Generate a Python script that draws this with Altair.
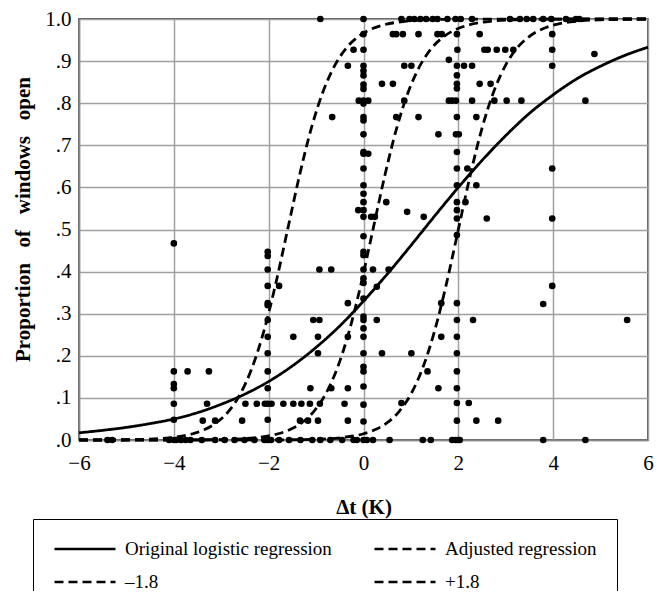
import altair as alt
import pandas as pd

# ---- logistic curves ----
orig_x = [-6, -5.5, -5, -4.5, -4, -3.5, -3, -2.5, -2, -1.5, -1, -0.5, 0,
          0.5, 1, 1.5, 2, 2.5, 3, 3.5, 4, 4.5, 5, 5.5, 6]
orig_y = [0.017, 0.023, 0.030, 0.039, 0.050, 0.065, 0.085, 0.109, 0.139, 0.176,
          0.220, 0.271, 0.330, 0.394, 0.462, 0.532, 0.600, 0.664, 0.723, 0.776,
          0.820, 0.858, 0.888, 0.913, 0.933]

adj_x = [-6, -3.8, -3.3, -2.8, -2.3, -1.8, -1.55, -1.3, -1.05, -0.8, -0.55, -0.3,
         -0.05, 0.2, 0.45, 0.7, 0.95, 1.2, 1.45, 1.7, 1.95, 2.2, 2.7, 3.2, 3.7, 4.2, 6]
adj_y = [0.0, 0.0002, 0.0006, 0.0018, 0.0052, 0.0148, 0.0247, 0.0411, 0.0675,
         0.1091, 0.1715, 0.2592, 0.3717, 0.5, 0.6283, 0.7408, 0.8285, 0.8909,
         0.9325, 0.9589, 0.9753, 0.9852, 0.9948, 0.9982, 0.9994, 0.9998, 1.0]

minus_x = [-6, -5.6, -5.1, -4.6, -4.1, -3.6, -3.35, -3.1, -2.85, -2.6, -2.35, -2.1,
           -1.85, -1.6, -1.35, -1.1, -0.85, -0.6, -0.35, -0.1, 0.15, 0.4, 0.9, 1.4,
           1.9, 2.4, 6]
minus_y = [0.0001, 0.0002, 0.0006, 0.0018, 0.0052, 0.0148, 0.0247, 0.0411, 0.0675,
           0.1091, 0.1715, 0.2592, 0.3717, 0.5, 0.6283, 0.7408, 0.8285, 0.8909,
           0.9325, 0.9589, 0.9753, 0.9852, 0.9948, 0.9982, 0.9994, 0.9998, 1.0]

plus_x = [-6, -2, -1.5, -1, -0.5, 0, 0.25, 0.5, 0.75, 1.0, 1.25, 1.5, 1.75, 2.0,
          2.25, 2.5, 2.75, 3.0, 3.25, 3.5, 3.75, 4.0, 4.5, 5.0, 5.5, 6.0]
plus_y = [0.0, 0.0002, 0.0006, 0.0018, 0.0052, 0.0148, 0.0247, 0.0411, 0.0675,
          0.1091, 0.1715, 0.2592, 0.3717, 0.5, 0.6283, 0.7408, 0.8285, 0.8909,
          0.9325, 0.9589, 0.9753, 0.9852, 0.9948, 0.9982, 0.9994, 0.9998]

series_names = ["Original logistic regression", "Adjusted regression", "\u20131.8", "+1.8"]

# ---- observed proportions (x, y) ----
points = [
    (-4.0, 0.467), (-4.0, 0.163), (-4.0, 0.133), (-4.0, 0.123), (-4.0, 0.086), (-4.0, 0.048),
    (-3.71, 0.163), (-3.26, 0.163), (-3.30, 0.086), (-3.39, 0.046), (-3.13, 0.046), (-2.56, 0.046),
    (-5.4, 0.0), (-5.3, 0.0), (-4.1, 0.0), (-4.0, 0.0), (-3.95, 0.0), (-3.85, 0.0), (-3.75, 0.0),
    (-3.65, 0.0), (-3.41, 0.0), (-3.13, 0.0), (-2.93, 0.0), (-2.72, 0.0), (-2.51, 0.0), (-2.30, 0.0),
    (-2.09, 0.0), (-2.02, 0.0), (-1.95, 0.0), (-1.78, 0.0), (-1.57, 0.0), (-1.33, 0.0), (-1.08, 0.0),
    (-0.91, 0.0), (-0.70, 0.0), (-0.45, 0.0), (-0.21, 0.0), (-0.14, 0.0), (0.0, 0.0), (0.07, 0.0),
    (0.2, 0.0), (0.55, 0.0), (1.25, 0.0), (1.42, 0.0), (1.87, 0.0), (1.94, 0.0), (1.99, 0.0),
    (2.03, 0.0), (3.79, 0.0), (4.68, 0.0),
    (-2.02, 0.447), (-2.02, 0.437), (-2.02, 0.405), (-2.02, 0.366), (-2.02, 0.325), (-2.02, 0.32),
    (-2.02, 0.285), (-2.02, 0.245), (-2.02, 0.206), (-2.02, 0.163), (-2.02, 0.123), (-2.02, 0.086),
    (-2.02, 0.048),
    (-1.78, 0.366), (-0.93, 0.405), (-0.68, 0.405), (-1.48, 0.245), (-1.06, 0.285), (-0.93, 0.285),
    (-0.96, 0.245), (-0.96, 0.206),
    (-2.49, 0.086), (-2.25, 0.086), (-2.08, 0.086), (-1.94, 0.086), (-1.69, 0.086), (-1.48, 0.086),
    (-1.31, 0.086), (-1.13, 0.086), (-0.92, 0.086), (-0.40, 0.086),
    (-1.12, 0.123), (-0.68, 0.123), (-1.34, 0.046), (-1.17, 0.046), (-0.96, 0.046),
    (-0.33, 0.325), (-0.33, 0.245), (-0.33, 0.123), (-0.33, 0.046),
    (0.0, 1.0), (0.0, 0.964), (0.0, 0.927), (0.0, 0.889), (0.0, 0.877), (0.0, 0.866), (0.0, 0.844),
    (0.0, 0.834), (0.0, 0.806), (0.0, 0.799), (0.0, 0.767), (0.0, 0.759), (0.0, 0.726), (0.0, 0.684),
    (0.0, 0.680), (0.0, 0.645), (0.0, 0.605), (0.0, 0.585), (0.0, 0.565), (0.0, 0.546), (0.0, 0.530),
    (0.0, 0.484), (0.0, 0.447), (0.0, 0.439), (0.0, 0.405), (0.0, 0.384), (0.0, 0.373), (0.0, 0.336),
    (0.0, 0.293), (0.0, 0.285), (0.0, 0.265), (0.0, 0.245), (0.0, 0.206), (0.0, 0.174), (0.0, 0.163),
    (0.0, 0.127), (0.0, 0.084), (0.0, 0.044),
    (-0.1, 0.806), (0.1, 0.806), (0.1, 0.68), (-0.11, 0.546), (0.16, 0.53), (0.24, 0.53),
    (0.48, 0.565), (0.92, 0.542), (1.27, 0.53), (0.2, 0.405), (0.53, 0.405), (0.28, 0.364),
    (0.28, 0.285), (0.39, 0.206), (1.01, 0.206), (1.35, 0.163), (1.58, 0.123), (0.80, 0.088),
    (-0.91, 1.0), (0.80, 1.0), (0.97, 1.0), (1.07, 1.0), (1.20, 1.0), (1.32, 1.0), (1.46, 1.0),
    (1.56, 1.0), (1.77, 1.0), (1.94, 1.0), (2.05, 1.0), (2.29, 1.0), (3.09, 1.0), (3.30, 1.0),
    (3.44, 1.0), (3.58, 1.0), (3.79, 1.0), (3.96, 1.0), (4.27, 1.0), (4.48, 1.0), (4.55, 1.0),
    (0.62, 0.964), (0.69, 0.964), (0.83, 0.964), (1.16, 0.964), (1.56, 0.964), (1.65, 0.964),
    (1.97, 0.964), (2.45, 0.964), (3.98, 0.964),
    (-0.21, 0.927), (1.98, 0.927), (2.55, 0.927), (2.62, 0.927), (2.81, 0.927), (2.99, 0.927),
    (3.16, 0.927), (3.98, 0.927), (4.87, 0.917),
    (-0.33, 0.889), (0.86, 0.889), (1.01, 0.889), (1.97, 0.889), (2.12, 0.889), (2.29, 0.889),
    (3.98, 0.889), (1.80, 0.903),
    (0.39, 0.846), (0.62, 0.846), (1.97, 0.846), (2.45, 0.846), (2.68, 0.846),
    (0.86, 0.806), (1.80, 0.806), (1.87, 0.806), (1.95, 0.806), (2.29, 0.806), (2.76, 0.806),
    (3.02, 0.806), (3.33, 0.806), (4.68, 0.806),
    (-0.66, 0.767), (0.69, 0.767), (1.16, 0.767), (1.97, 0.767), (2.38, 0.767),
    (1.58, 0.726), (1.95, 0.726), (2.01, 0.726),
    (1.97, 0.866), (1.97, 0.835), (1.97, 0.684), (1.97, 0.645), (1.97, 0.605), (1.97, 0.565),
    (1.97, 0.546), (1.97, 0.526), (1.97, 0.487), (1.97, 0.325), (1.97, 0.285), (1.97, 0.245),
    (1.97, 0.206), (1.97, 0.163), (1.97, 0.123), (1.97, 0.088), (1.97, 0.046),
    (2.19, 0.645), (3.98, 0.645), (2.38, 0.605), (2.15, 0.565), (2.60, 0.526), (3.98, 0.526),
    (1.64, 0.325), (1.64, 0.245), (2.31, 0.285), (2.22, 0.088), (2.38, 0.046), (2.84, 0.046),
    (3.98, 0.366), (3.79, 0.323), (5.56, 0.285),
]

x_ticks = [-6, -4, -2, 0, 2, 4, 6]
y_ticks = [0, 0.1, 0.2, 0.3, 0.4, 0.5, 0.6, 0.7, 0.8, 0.9, 1.0]

# ---- build tables ----
rows = []
for name, xs, ys in zip(series_names, [orig_x, adj_x, minus_x, plus_x],
                        [orig_y, adj_y, minus_y, plus_y]):
    for i, (a, b) in enumerate(zip(xs, ys)):
        rows.append({"series": name, "x": a, "y": b, "order": i})
curves = pd.DataFrame(rows)
pts = pd.DataFrame(points, columns=["x", "y"])

FONT = "Liberation Serif"
GAP = "\u00a0\u00a0\u00a0"
xscale = alt.Scale(domain=[-6, 6], nice=False, zero=False)
yscale = alt.Scale(domain=[0, 1], nice=False)

x_axis = alt.Axis(values=x_ticks, grid=True, ticks=False, labelFlush=False,
                  labelPadding=12, labelFontSize=21, labelFont=FONT, labelColor="black",
                  title="\u0394t (K)", titleFont=FONT, titleFontSize=21, titleFontWeight="bold",
                  titleColor="black", titlePadding=23)
y_axis = alt.Axis(values=y_ticks, grid=True, ticks=False, labelPadding=8,
                  labelFontSize=21, labelFont=FONT, labelColor="black",
                  labelExpr="datum.value == 1 ? '1.0' : '.' + format(datum.value * 10, '.0f')",
                  title="Proportion" + GAP + "of" + GAP + "windows" + GAP + "open",
                  titleFont=FONT, titleFontSize=21,
                  titleFontWeight="bold", titleColor="black", titlePadding=11, titleY=200)

lines = alt.Chart(curves).mark_line(color="black", strokeWidth=2.8, interpolate="monotone").encode(
    x=alt.X("x:Q", scale=xscale, axis=x_axis),
    y=alt.Y("y:Q", scale=yscale, axis=y_axis),
    order="order:Q",
    strokeDash=alt.StrokeDash(
        "series:N",
        sort=series_names,
        scale=alt.Scale(domain=series_names, range=[[1, 0], [9, 5], [9, 5], [9, 5]]),
        legend=alt.Legend(
            title=None, orient="none", legendX=-46, legendY=500, columns=2,
            direction="horizontal", clipHeight=20,
            symbolType="stroke", symbolSize=3721, symbolStrokeWidth=2.5,
            symbolStrokeColor="black", labelFont=FONT, labelFontSize=19, labelColor="black",
            labelOffset=8, columnPadding=41, rowPadding=13, padding=20,
            strokeColor="black", labelLimit=400,
        ),
    ),
)

dots = alt.Chart(pts).mark_circle(color="black", size=44, opacity=1).encode(
    x=alt.X("x:Q", scale=xscale),
    y=alt.Y("y:Q", scale=yscale),
)

chart = alt.layer(lines, dots).properties(
    width=569, height=421,
    autosize=alt.AutoSizeParams(type="none"),
    padding={"left": 71, "top": 11, "right": 7, "bottom": 151},
).configure_view(
    stroke="#222", strokeWidth=1.5
).configure_axis(
    gridColor="#a0a0a0", gridWidth=1.5, domainColor="#888", domainWidth=1.5
)

chart.save("out.html", embed_options={"renderer": "svg", "actions": False})
